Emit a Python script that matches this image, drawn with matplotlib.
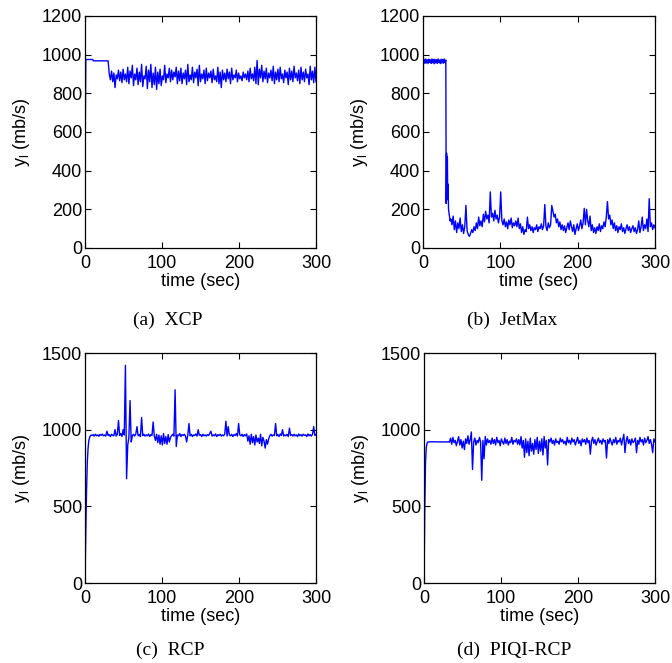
import numpy as np
import matplotlib
matplotlib.use("Agg")
import matplotlib.pyplot as plt

plt.rcParams['font.family'] = ['Liberation Sans', 'DejaVu Sans']
plt.rcParams['mathtext.fontset'] = 'custom'
plt.rcParams['mathtext.rm'] = 'Liberation Sans'
plt.rcParams['mathtext.it'] = 'Liberation Sans'

# (a) XCP
xcp_head_t = [0, 1, 10, 11, 30]
xcp_head_y = [370, 975, 975, 968, 968]
xcp_y = [
    900, 870, 915, 860, 905, 830, 895, 875, 920, 865, 910, 855, 925, 870, 900, 860, 935, 850, 915, 880,
    945, 840, 900, 870, 930, 845, 910, 860, 950, 835, 890, 875, 940, 825, 920, 860, 950, 830, 905, 845,
    935, 820, 910, 850, 925, 840, 890, 870, 945, 855, 900, 880, 930, 860, 920, 870, 910, 885, 935, 850,
    915, 865, 930, 850, 905, 875, 920, 845, 950, 860, 895, 870, 935, 855, 910, 880, 925, 840, 945, 860,
    900, 875, 920, 850, 930, 865, 905, 880, 915, 855, 925, 870, 890, 860, 935, 850, 910, 830, 920, 870,
    905, 860, 925, 875, 910, 850, 930, 870, 895, 880, 920, 860, 905, 875, 890, 865, 910, 880, 900, 870,
    915, 860, 930, 875, 900, 865, 935, 850, 970, 845, 925, 880, 945, 860, 915, 875, 930, 855, 905, 880,
    920, 865, 940, 850, 910, 870, 925, 860, 935, 875, 900, 855, 920, 880, 910, 845, 930, 870, 915, 860,
    940, 880, 905, 865, 920, 850, 935, 870, 910, 860, 925, 880, 900, 845, 940, 870, 915, 855, 935, 860,
]

# (b) JetMax
jet_top = [958, 976, 955, 978, 957, 974, 954, 977, 960, 973, 955, 978, 958, 975, 953,
           976, 957, 974, 955, 978, 959, 972, 954, 977, 957, 975, 956, 978, 959, 972]
jet_drop_t = [30, 30.5, 31, 31.5, 32, 32.5, 33, 34, 35]
jet_drop_y = [230, 490, 260, 470, 250, 330, 200, 170, 140]
jet_y = [
    150, 120, 165, 95, 140, 80, 130, 100, 155, 85, 120, 75, 110, 220, 90, 70, 60,
    75, 95, 80, 110, 90, 130, 100, 160, 115, 140, 110, 175, 135, 190, 150, 170, 130, 290, 160, 180,
    140, 195, 150, 170, 130, 160, 290, 140, 120, 150, 110, 135, 100, 145, 120, 155, 105, 130, 115, 140,
    110, 155, 100, 125, 80, 110, 70, 95, 85, 160, 100, 120, 90, 110, 80, 105, 95, 120, 85, 110,
    100, 125, 95, 115, 225, 110, 90, 130, 105, 120, 220, 190, 160, 175, 130, 150, 110, 135, 95, 120,
    90, 115, 80, 105, 130, 95, 140, 110, 85, 120, 70, 100, 125, 90, 115, 145, 100, 130, 205, 120,
    200, 140, 110, 165, 90, 120, 80, 105, 75, 110, 90, 125, 85, 115, 100, 135, 110, 160, 240, 150,
    170, 120, 145, 100, 130, 90, 115, 80, 110, 95, 125, 85, 105, 75, 100, 120, 90, 110, 80, 100,
    115, 85, 105, 75, 95, 140, 80, 110, 160, 90, 120, 100, 150, 85, 255, 110, 130, 95, 120, 105,
]

# (c) RCP
rcp_head_t = [0, 1, 2, 3, 4, 5, 6, 7, 8]
rcp_head_y = [0, 330, 600, 790, 880, 930, 950, 960, 965]
rcp_y = [
    962, 968, 958, 970, 960, 966, 957, 969, 963, 971, 960, 965, 958, 990, 962, 968, 955, 970, 963, 960,
    1000, 958, 970, 1060, 962, 975, 955, 1000, 965, 1420, 680, 900, 950, 1190, 920, 960, 970, 958, 972, 1020,
    960, 968, 955, 1080, 962, 970, 958, 966, 960, 972, 955, 968, 962, 1050, 958, 930, 970, 915, 965, 905,
    960, 900, 975, 910, 955, 905, 968, 920, 950, 960, 970, 958, 1260, 890, 965, 960, 975, 955, 968, 962,
    970, 958, 920, 965, 1040, 960, 970, 955, 966, 962, 972, 958, 1000, 963, 968, 955, 970, 960, 966, 958,
    968, 962, 975, 990, 958, 966, 960, 972, 955, 968, 962, 970, 958, 966, 960, 972, 1055, 958, 1020, 965,
    960, 970, 955, 968, 962, 975, 958, 1040, 966, 960, 970, 955, 968, 960, 972, 925, 960, 905, 970, 915,
    955, 900, 965, 920, 945, 910, 970, 895, 950, 925, 880, 935, 905, 940, 960, 970, 958, 966, 962, 1040,
    960, 968, 955, 972, 962, 1000, 958, 966, 960, 970, 955, 1010, 962, 968, 958, 970, 960, 966, 955, 972,
    960, 968, 958, 970, 962, 966, 955, 972, 960, 968, 958, 970, 1020, 962, 968,
]

# (d) PIQI-RCP
piqi_head_t = [0, 1, 2, 3, 4, 5, 10, 20]
piqi_head_y = [0, 480, 790, 885, 912, 920, 921, 920]
piqi_y = [
    920, 922, 918, 945, 905, 950, 915, 930, 895, 925, 955, 900, 935, 880, 925, 870, 940, 910, 960, 905,
    935, 985, 740, 920, 945, 900, 930, 915, 950, 920, 670, 930, 810, 955, 900, 940, 915, 930, 905, 945,
    910, 935, 900, 950, 915, 930, 895, 940, 920, 905, 945, 910, 935, 900, 925, 915, 950, 905, 930, 920,
    940, 905, 935, 900, 955, 880, 930, 820, 940, 850, 925, 830, 945, 860, 910, 840, 935, 870, 950, 845,
    925, 860, 940, 835, 955, 880, 930, 770, 935, 920, 945, 910, 930, 900, 940, 915, 925, 905, 945, 920,
    935, 910, 925, 900, 950, 915, 930, 905, 945, 920, 935, 900, 925, 950, 910, 930, 895, 940, 920, 935,
    905, 945, 915, 930, 840, 925, 950, 910, 935, 900, 925, 945, 915, 930, 905, 940, 920, 930, 815, 935,
    910, 945, 920, 900, 935, 915, 950, 905, 930, 920, 945, 900, 935, 970, 850, 925, 955, 910, 935, 900,
    940, 915, 925, 945, 850, 930, 905, 950, 920, 935, 900, 945, 915, 930, 955, 910, 935, 905, 850, 940,
    920,
]

# build full series (body samples spread evenly over their time span)
xcp_t = np.concatenate([xcp_head_t, np.linspace(31.5, 300, len(xcp_y))])
xcp_v = np.concatenate([xcp_head_y, xcp_y])

jet_t = np.concatenate([[0], np.linspace(0.5, 29.5, len(jet_top)), jet_drop_t,
                        np.linspace(36, 300, len(jet_y))])
jet_v = np.concatenate([[0], jet_top, jet_drop_y, jet_y])

rcp_t = np.concatenate([rcp_head_t, np.linspace(9, 300, len(rcp_y))])
rcp_v = np.concatenate([rcp_head_y, rcp_y])

piqi_t = np.concatenate([piqi_head_t, np.linspace(30, 300, len(piqi_y))])
piqi_v = np.concatenate([piqi_head_y, piqi_y])

panels = [
    (xcp_t, xcp_v, 1200, [0, 200, 400, 600, 800, 1000, 1200], '(a)  XCP',
     [85, 16, 316, 248]),
    (jet_t, jet_v, 1200, [0, 200, 400, 600, 800, 1000, 1200], '(b)  JetMax',
     [423, 16, 655, 248]),
    (rcp_t, rcp_v, 1500, [0, 500, 1000, 1500], '(c)  RCP',
     [85, 353, 316, 583]),
    (piqi_t, piqi_v, 1500, [0, 500, 1000, 1500], '(d)  PIQI-RCP',
     [424, 353, 655, 583]),
]
caption_xy = [(168, 320), (512, 320), (170, 650), (514, 650)]

W, H = 672, 663
fig = plt.figure(figsize=(W / 100, H / 100), dpi=100)

for (t, v, ymax, yticks, caption, box), (cx, cy) in zip(panels, caption_xy):
    x0, y0, x1, y1 = box
    ax = fig.add_axes([x0 / W, 1 - y1 / H, (x1 - x0) / W, (y1 - y0) / H])
    ax.plot(t, v, color='blue', linewidth=1.0)
    ax.set_xlim(0, 300)
    ax.set_ylim(0, ymax)
    ax.set_xticks([0, 100, 200, 300])
    ax.set_yticks(yticks)
    ax.tick_params(direction='in', top=True, right=True, labelsize=13,
                   length=4, width=0.8)
    ax.tick_params(axis='x', pad=5)
    ax.tick_params(axis='y', pad=2)
    ax.set_xlabel('time (sec)', fontsize=13, labelpad=1)
    ax.set_ylabel(r'y$_\mathregular{l}$ (mb/s)', fontsize=13, labelpad=7)
    for s in ax.spines.values():
        s.set_linewidth(0.9)
    fig.text(cx / W, 1 - cy / H, caption, ha='center', va='center',
             fontsize=14, family=['Liberation Serif', 'DejaVu Serif'])

fig.savefig('out.png', dpi=100)
